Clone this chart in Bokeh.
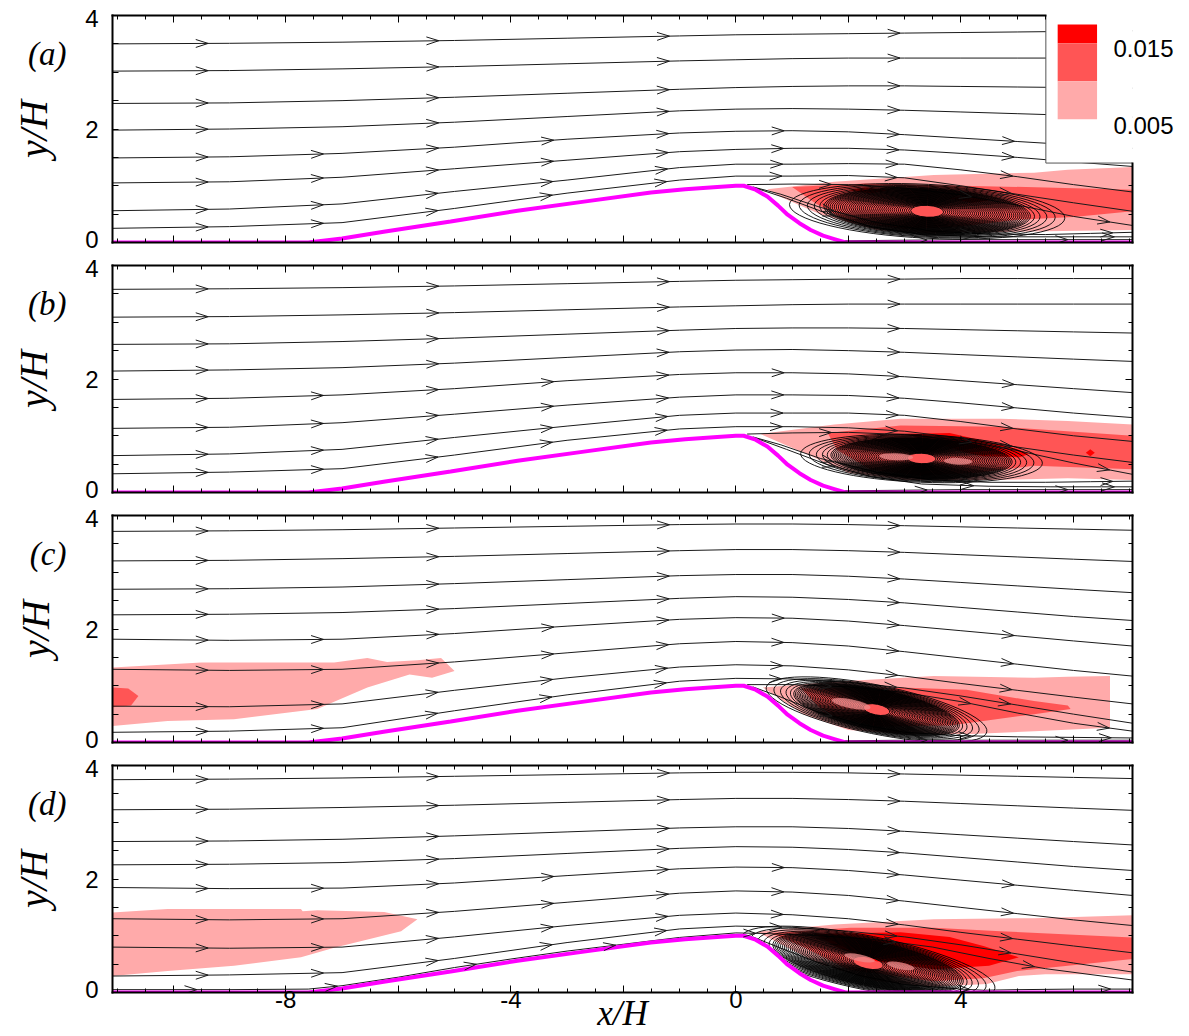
import numpy as np
from bokeh.plotting import figure
from bokeh.layouts import column
from bokeh.models import FixedTicker, LinearAxis, Range1d
from bokeh.embed import file_html
from bokeh.resources import INLINE

# ---------------- data ----------------
x_lo, x_hi = -11.08, 7.05

hill_x = [-11.08, -7.6, -7.0, -6.26, -5.07, -3.88, -2.70, -1.51, -0.9, -0.33, 0.0, 0.14, 0.35,
          0.56, 0.75, 0.92, 1.13, 1.33, 1.55, 1.75, 1.95, 7.05]
hill_y = [0.0, 0.0, 0.07, 0.19, 0.37, 0.56, 0.72, 0.88, 0.94, 0.98, 1.0, 1.0, 0.93,
          0.81, 0.65, 0.49, 0.34, 0.22, 0.12, 0.06, 0.0, 0.0]

stream_x = [-11.08, -9, -7, -5, -3, -1, 0, 1, 2, 3, 4, 5, 6, 7.05]

streams_a = [
    [3.50, 3.51, 3.53, 3.56, 3.60, 3.64, 3.66, 3.67, 3.68, 3.69, 3.70, 3.71, 3.72, 3.73],
    [3.02, 3.03, 3.06, 3.10, 3.15, 3.20, 3.22, 3.24, 3.25, 3.25, 3.25, 3.25, 3.25, 3.25],
    [2.45, 2.46, 2.50, 2.56, 2.63, 2.70, 2.73, 2.75, 2.76, 2.76, 2.75, 2.74, 2.73, 2.72],
    [1.98, 2.00, 2.04, 2.12, 2.22, 2.32, 2.35, 2.36, 2.35, 2.33, 2.30, 2.27, 2.24, 2.21],
    [1.49, 1.51, 1.57, 1.68, 1.82, 1.93, 1.96, 1.97, 1.95, 1.90, 1.84, 1.78, 1.72, 1.66],
    [1.05, 1.07, 1.15, 1.30, 1.45, 1.60, 1.64, 1.66, 1.66, 1.63, 1.57, 1.50, 1.42, 1.34],
    [0.56, 0.59, 0.68, 0.90, 1.10, 1.32, 1.38, 1.38, 1.39, 1.38, 1.28, 1.16, 1.02, 0.89],
    [0.25, 0.28, 0.35, 0.60, 0.87, 1.10, 1.17, 1.17, 1.18, 1.14, 1.00, 0.85, 0.70, 0.55],
]
streams_b = [
    [3.58, 3.59, 3.61, 3.64, 3.68, 3.72, 3.74, 3.75, 3.76, 3.76, 3.77, 3.77, 3.77, 3.77],
    [3.09, 3.10, 3.13, 3.17, 3.22, 3.27, 3.29, 3.31, 3.32, 3.32, 3.32, 3.32, 3.32, 3.32],
    [2.61, 2.62, 2.66, 2.72, 2.79, 2.86, 2.89, 2.90, 2.90, 2.89, 2.87, 2.85, 2.83, 2.81],
    [2.14, 2.16, 2.20, 2.28, 2.38, 2.48, 2.51, 2.52, 2.50, 2.47, 2.43, 2.39, 2.35, 2.31],
    [1.64, 1.66, 1.72, 1.83, 1.97, 2.08, 2.11, 2.11, 2.09, 2.04, 1.97, 1.90, 1.83, 1.76],
    [1.13, 1.15, 1.23, 1.38, 1.54, 1.68, 1.72, 1.72, 1.71, 1.66, 1.58, 1.49, 1.40, 1.32],
    [0.65, 0.68, 0.76, 0.97, 1.17, 1.36, 1.40, 1.40, 1.40, 1.36, 1.25, 1.12, 1.00, 0.90],
    [0.33, 0.36, 0.42, 0.66, 0.92, 1.12, 1.16, 1.16, 1.14, 1.08, 0.96, 0.80, 0.66, 0.53],
]
streams_c = [
    [3.72, 3.73, 3.75, 3.78, 3.81, 3.84, 3.85, 3.85, 3.84, 3.82, 3.80, 3.78, 3.76, 3.74],
    [3.20, 3.21, 3.24, 3.28, 3.33, 3.38, 3.40, 3.40, 3.38, 3.35, 3.31, 3.27, 3.23, 3.19],
    [2.70, 2.71, 2.74, 2.80, 2.87, 2.94, 2.96, 2.96, 2.93, 2.88, 2.82, 2.76, 2.70, 2.64],
    [2.25, 2.26, 2.29, 2.36, 2.45, 2.54, 2.57, 2.56, 2.52, 2.46, 2.38, 2.30, 2.22, 2.15],
    [1.82, 1.80, 1.82, 1.92, 2.05, 2.17, 2.20, 2.19, 2.14, 2.06, 1.97, 1.88, 1.79, 1.70],
    [1.29, 1.27, 1.29, 1.42, 1.58, 1.74, 1.78, 1.76, 1.70, 1.60, 1.49, 1.38, 1.27, 1.17],
    [0.64, 0.63, 0.68, 0.92, 1.14, 1.33, 1.37, 1.35, 1.28, 1.17, 1.04, 0.92, 0.80, 0.68],
    [0.18, 0.20, 0.26, 0.56, 0.84, 1.08, 1.13, 1.12, 1.06, 0.96, 0.82, 0.66, 0.50, 0.34],
]
streams_d = [
    [3.75, 3.76, 3.78, 3.81, 3.84, 3.87, 3.88, 3.88, 3.87, 3.85, 3.83, 3.81, 3.79, 3.77],
    [3.22, 3.23, 3.26, 3.30, 3.35, 3.40, 3.42, 3.42, 3.40, 3.37, 3.33, 3.29, 3.25, 3.21],
    [2.66, 2.67, 2.70, 2.76, 2.83, 2.90, 2.92, 2.92, 2.89, 2.84, 2.78, 2.72, 2.66, 2.60],
    [2.25, 2.26, 2.29, 2.36, 2.45, 2.54, 2.57, 2.56, 2.52, 2.46, 2.38, 2.30, 2.22, 2.15],
    [1.85, 1.83, 1.84, 1.93, 2.06, 2.18, 2.21, 2.20, 2.15, 2.07, 1.98, 1.89, 1.80, 1.71],
    [1.30, 1.28, 1.30, 1.43, 1.59, 1.75, 1.79, 1.77, 1.71, 1.61, 1.50, 1.39, 1.28, 1.18],
    [0.80, 0.78, 0.80, 0.98, 1.18, 1.36, 1.40, 1.37, 1.30, 1.19, 1.06, 0.94, 0.82, 0.70],
    [0.29, 0.31, 0.35, 0.60, 0.88, 1.12, 1.17, 1.15, 1.08, 0.98, 0.84, 0.68, 0.52, 0.36],
]

# near-wall / separated streamlines (x list, y list)
wake_a = [
    ([0.2, 1.0, 2.0, 3.0, 4.0, 5.0, 6.0, 7.05], [1.02, 1.03, 1.02, 0.96, 0.84, 0.66, 0.46, 0.30]),
    ([0.3, 0.8, 1.5, 2.5, 3.5, 4.5, 5.5, 6.3, 7.05], [0.98, 0.85, 0.62, 0.35, 0.20, 0.15, 0.14, 0.16, 0.18]),
    ([0.35, 0.9, 1.6, 2.4, 3.3, 4.5, 5.6, 6.5, 7.05], [0.96, 0.78, 0.52, 0.28, 0.14, 0.10, 0.10, 0.10, 0.10]),
    ([1.9, 3.0, 4.0, 5.0, 6.0, 7.05], [0.03, 0.04, 0.05, 0.05, 0.05, 0.05]),
]
wake_b = [
    ([0.2, 1.0, 2.0, 3.0, 4.0, 5.0, 6.0, 7.05], [1.03, 1.05, 1.06, 1.02, 0.92, 0.74, 0.52, 0.32]),
    ([0.3, 0.8, 1.5, 2.5, 3.5, 4.5, 5.5, 6.3, 7.05], [0.98, 0.84, 0.60, 0.36, 0.22, 0.18, 0.18, 0.19, 0.20]),
    ([0.35, 0.9, 1.6, 2.4, 3.3, 4.5, 5.6, 6.5, 7.05], [0.96, 0.76, 0.50, 0.28, 0.15, 0.11, 0.10, 0.10, 0.10]),
    ([1.9, 3.0, 4.0, 5.0, 6.0, 7.05], [0.03, 0.04, 0.05, 0.05, 0.05, 0.05]),
]
wake_c = [
    ([0.2, 1.0, 2.0, 3.0, 4.0, 5.0, 6.0, 7.05], [1.02, 1.02, 0.98, 0.88, 0.72, 0.52, 0.34, 0.20]),
    ([0.3, 0.8, 1.4, 2.2, 3.0, 4.0, 5.0, 6.0, 7.05], [0.98, 0.80, 0.56, 0.32, 0.18, 0.12, 0.10, 0.09, 0.08]),
    ([1.9, 3.0, 4.0, 5.0, 6.0, 7.05], [0.03, 0.04, 0.04, 0.04, 0.04, 0.04]),
]
wake_d = [
    ([-11.08, -9, -7.6, -7, -6, -5, -4, -3, -2, -1, 0, 0.5, 1.5, 2.5, 3.5, 4.5, 5.5, 7.05],
     [0.05, 0.05, 0.06, 0.12, 0.27, 0.44, 0.59, 0.73, 0.85, 0.97, 1.05, 1.04, 1.0, 0.93, 0.80, 0.60, 0.42, 0.22]),
    ([0.3, 0.8, 1.4, 2.2, 3.0, 4.0, 4.4, 5.0, 6.0, 7.05], [0.98, 0.78, 0.55, 0.30, 0.14, 0.06, 0.04, 0.05, 0.06, 0.06]),
]

# recirculation eddies: centre, tilt, outer width / height of the closed loops
eddy_a = dict(cx=3.4, cy=0.55, ang=-0.05, W=4.9, H=0.95)
eddy_b = dict(cx=3.3, cy=0.6, ang=-0.04, W=4.3, H=0.84)
eddy_c = dict(cx=2.5, cy=0.58, ang=-0.2, W=4.0, H=0.86)
eddy_d = dict(cx=2.35, cy=0.52, ang=-0.2, W=4.6, H=0.95)
# relative sizes of the successive closed loops (outer -> inner)
ring_w = [1.0, 0.93, 0.87, 0.82, 0.78, 0.75, 0.735, 0.72, 0.705, 0.69, 0.675, 0.66, 0.645, 0.63,
          0.615, 0.60, 0.585, 0.57, 0.555, 0.54, 0.525, 0.51, 0.495, 0.48, 0.465, 0.45, 0.435,
          0.42, 0.405, 0.39, 0.375, 0.36, 0.345, 0.33, 0.315, 0.30, 0.285, 0.27, 0.255, 0.24,
          0.225, 0.21, 0.195, 0.18, 0.165, 0.15, 0.135, 0.12]
ring_h = [1.0, 0.96, 0.93, 0.90, 0.875, 0.85, 0.835, 0.82, 0.805, 0.79, 0.775, 0.76, 0.745, 0.73,
          0.715, 0.70, 0.685, 0.67, 0.655, 0.64, 0.625, 0.61, 0.595, 0.58, 0.565, 0.55, 0.535,
          0.52, 0.505, 0.49, 0.475, 0.46, 0.445, 0.43, 0.415, 0.40, 0.385, 0.37, 0.355, 0.34,
          0.325, 0.31, 0.295, 0.28, 0.265, 0.25, 0.235, 0.22]

# small pinkish cores inside the eddies
cores_a = dict(x=[], y=[], w=[], h=[])
cores_b = dict(x=[2.85, 3.95], y=[0.63, 0.55], w=[0.6, 0.5], h=[0.12, 0.12])
cores_c = dict(x=[2.05], y=[0.68], w=[0.7], h=[0.16])
cores_d = dict(x=[2.2, 2.93], y=[0.61, 0.47], w=[0.55, 0.5], h=[0.12, 0.12])

# contour bands of the fluctuation level (0.005 / 0.01 / 0.015)
bands_a = [
    ("light", [0.56, 1.75, 3.52, 5.3, 5.9, 7.05, 7.05, 5.5, 4.5, 3.5, 2.5, 1.5, 0.8],
              [0.94, 1.07, 1.19, 1.23, 1.28, 1.33, 0.22, 0.20, 0.18, 0.16, 0.22, 0.50, 0.80]),
    ("medium", [1.0, 2.3, 4.0, 5.5, 7.05, 7.05, 6.0, 5.0, 4.0, 3.0, 2.0, 1.4],
               [0.98, 1.04, 1.00, 0.97, 0.93, 0.55, 0.45, 0.40, 0.28, 0.24, 0.36, 0.70]),
    ("red", [2.0, 2.3, 2.7, 2.4], [0.92, 0.97, 0.92, 0.87]),
    ("red", [3.8, 4.1, 4.5, 4.2], [0.78, 0.82, 0.74, 0.70]),
]
bands_b = [
    ("light", [0.44, 1.75, 2.93, 4.7, 5.9, 7.05, 7.05, 5.9, 4.5, 3.0, 2.0, 1.2],
              [1.03, 1.20, 1.30, 1.30, 1.26, 1.20, 0.22, 0.25, 0.22, 0.22, 0.35, 0.70]),
    ("medium", [1.63, 2.93, 4.7, 7.05, 7.05, 5.3, 4.3, 3.3, 2.4, 1.8],
               [1.05, 1.18, 1.16, 1.00, 0.41, 0.47, 0.35, 0.30, 0.40, 0.75]),
    ("red", [3.0, 3.8, 4.4, 4.99, 5.21, 5.05, 4.4, 4.1, 3.5],
            [1.03, 1.05, 0.91, 0.77, 0.68, 0.62, 0.64, 0.70, 0.90]),
    ("red", [6.22, 6.3, 6.38, 6.3], [0.70, 0.76, 0.70, 0.64]),
]
bands_c = [
    ("light", [0.48, 1.75, 3.52, 5.3, 5.9, 6.65, 6.65, 5.3, 4.2, 3.0, 2.0, 1.2],
              [0.97, 1.07, 1.17, 1.14, 1.16, 1.17, 0.26, 0.20, 0.15, 0.15, 0.22, 0.50]),
    ("medium", [1.16, 2.93, 4.1, 5.3, 5.9, 5.95, 5.3, 4.4, 3.8, 2.5, 1.6],
               [0.95, 0.97, 0.93, 0.73, 0.65, 0.59, 0.50, 0.38, 0.30, 0.28, 0.50]),
    ("light", [-11.08, -9.5, -7.14, -6.55, -6.2, -5.66, -5.24, -5.0, -5.4, -5.8, -6.55, -7.44, -8.92, -10.1, -11.08],
              [1.32, 1.41, 1.41, 1.49, 1.42, 1.45, 1.49, 1.26, 1.14, 1.20, 0.97, 0.59, 0.41, 0.38, 0.29]),
    ("medium", [-11.08, -10.8, -10.62, -10.75, -11.08], [0.97, 0.95, 0.82, 0.65, 0.62]),
]
bands_d = [
    ("light", [0.38, 1.75, 3.52, 5.3, 7.05, 7.05, 5.5, 5.03, 4.46, 3.5, 2.5, 1.5, 0.8],
              [1.07, 1.20, 1.29, 1.31, 1.36, 0.32, 0.32, 0.29, 0.15, 0.10, 0.20, 0.50, 0.85]),
    ("medium", [0.62, 2.04, 3.52, 4.7, 7.05, 7.05, 5.9, 5.0, 4.4, 3.5, 2.0, 1.2],
               [1.05, 1.14, 1.14, 1.08, 0.97, 0.59, 0.47, 0.38, 0.25, 0.20, 0.40, 0.80]),
    ("red", [1.4, 2.93, 3.8, 4.4, 5.03, 4.5, 3.52, 2.5, 1.8],
            [1.03, 1.06, 0.98, 0.82, 0.62, 0.47, 0.41, 0.55, 0.80]),
    ("light", [-11.08, -10.1, -7.73, -7.7, -7.44, -6.25, -5.66, -5.95, -7.14, -7.73, -8.92, -10.1, -11.08],
              [1.41, 1.47, 1.47, 1.43, 1.45, 1.42, 1.29, 1.08, 0.79, 0.62, 0.47, 0.38, 0.29]),
]

legend_levels = ["0.015", "0.005"]
legend_label_y = [3.42, 2.07]

# ---------------- styling ----------------
COL = {"light": "#FFAAAA", "medium": "#FF5555", "red": "#FF0000"}
MAGENTA = "#FF00FF"
LINE = "#1a1a1a"
x_major = [-10, -8, -6, -4, -2, 0, 2, 4, 6]
x_minor = [float(v) for v in np.arange(-11.0, 7.01, 0.5)]
y_minor = [float(v) for v in np.arange(0.0, 4.01, 0.5)]
y_lab_ticks = [0.05, 2, 3.95]
x_labels = {-8: "-8", -4: "-4", 0: "0", 4: "4"}
LEG_LEFT, LEG_BOTTOM = 5.51, 1.40


def chevrons(xs, ys, start, step):
    xs = np.asarray(xs, float)
    ys = np.asarray(ys, float)
    seg = np.hypot(np.diff(xs), np.diff(ys))
    s = np.concatenate([[0.0], np.cumsum(seg)])
    out = []
    pos = start
    while pos < s[-1] - 0.3:
        px = np.interp(pos, s, xs)
        py = np.interp(pos, s, ys)
        i = min(int(np.searchsorted(s, pos, side="right")) - 1, len(xs) - 2)
        dx, dy = xs[i + 1] - xs[i], ys[i + 1] - ys[i]
        L = np.hypot(dx, dy)
        dx, dy = dx / L, dy / L
        bx, by = px - 0.22 * dx, py - 0.22 * dy
        nx, ny = -dy * 0.07, dx * 0.07
        out.append((bx + nx, by + ny, px, py))
        out.append((bx - nx, by - ny, px, py))
        pos += step
    return out


def base_axis(ax, frame_line=True):
    if frame_line:
        ax.axis_line_color = "black"
        ax.axis_line_width = 2
        ax.axis_line_cap = "square"
    else:
        ax.axis_line_color = None
    ax.major_tick_in = 7
    ax.major_tick_out = 0
    ax.minor_tick_in = 4
    ax.minor_tick_out = 0
    ax.major_tick_line_color = "black"
    ax.minor_tick_line_color = "black"
    ax.major_label_text_font = "Liberation Sans"
    ax.major_label_text_font_size = "24px"
    ax.major_label_text_color = "black"


def hide_labels(ax, ticks):
    ax.major_label_overrides = {t: "" for t in ticks}
    ax.major_label_text_font_size = "0px"
    ax.major_label_standoff = 0


def make_panel(tag, streams, wakes, eddy, cores, bands, show_x, top, bottom, legend=False):
    height = top + 227 + bottom
    p = figure(width=1189, height=height, x_range=Range1d(x_lo, x_hi), y_range=Range1d(0, 4),
               x_axis_type=None, y_axis_type=None, output_backend="svg", toolbar_location=None,
               min_border_left=112, min_border_right=57, min_border_top=top, min_border_bottom=bottom)
    p.outline_line_color = None
    p.background_fill_color = "white"
    p.border_fill_color = "white"

    # bottom axis
    bx = LinearAxis(ticker=FixedTicker(ticks=x_major, minor_ticks=x_minor))
    base_axis(bx)
    if show_x:
        bx.major_label_overrides = {t: x_labels.get(t, "") for t in x_major}
        bx.major_label_standoff = -2
        bx.axis_label = "x/H"
        bx.axis_label_text_font = "Liberation Serif"
        bx.axis_label_text_font_style = "italic"
        bx.axis_label_text_font_size = "35px"
        bx.axis_label_text_color = "black"
        bx.axis_label_standoff = -17
    else:
        hide_labels(bx, x_major)
    p.add_layout(bx, "below")

    # top axis (frame line + ticks; stops at the legend box in panel a)
    if legend:
        tt = FixedTicker(ticks=[t for t in x_major if t < LEG_LEFT], minor_ticks=[t for t in x_minor if t < LEG_LEFT])
        tx = LinearAxis(ticker=tt, bounds=(x_lo, LEG_LEFT))
    else:
        tt = FixedTicker(ticks=x_major, minor_ticks=x_minor)
        tx = LinearAxis(ticker=tt)
    base_axis(tx)
    hide_labels(tx, tt.ticks)
    p.add_layout(tx, "above")

    # left axis with numbers
    ly = LinearAxis(ticker=FixedTicker(ticks=y_lab_ticks, minor_ticks=y_minor))
    base_axis(ly)
    ly.major_tick_line_color = None
    ly.minor_tick_in = 6
    ly.major_label_overrides = {0.05: "0", 2: "2", 3.95: "4"}
    ly.major_label_standoff = 14
    p.add_layout(ly, "left")

    # outer left axis: panel tag + y/H title
    ly2 = LinearAxis(ticker=FixedTicker(ticks=[3.32]), axis_label="y/H")
    ly2.axis_line_color = None
    ly2.major_tick_line_color = None
    ly2.minor_tick_line_color = None
    ly2.major_tick_out = 0
    ly2.major_tick_in = 0
    ly2.major_label_overrides = {3.32: tag}
    ly2.major_label_text_font = "Liberation Serif"
    ly2.major_label_text_font_style = "italic"
    ly2.major_label_text_font_size = "33px"
    ly2.major_label_text_color = "black"
    ly2.major_label_standoff = 16
    ly2.axis_label_text_font = "Liberation Serif"
    ly2.axis_label_text_font_style = "italic"
    ly2.axis_label_text_font_size = "40px"
    ly2.axis_label_text_color = "black"
    ly2.axis_label_standoff = -31
    p.add_layout(ly2, "left")

    # right axis (frame line + ticks)
    if legend:
        rt = FixedTicker(ticks=[0.0], minor_ticks=[t for t in y_minor if t < LEG_BOTTOM])
        ry = LinearAxis(ticker=rt, bounds=(0, LEG_BOTTOM))
    else:
        rt = FixedTicker(ticks=[0, 2, 4], minor_ticks=y_minor)
        ry = LinearAxis(ticker=rt)
    base_axis(ry)
    hide_labels(ry, rt.ticks)
    p.add_layout(ry, "right")

    # contour bands
    for kind in ["light", "medium", "red"]:
        for k, xs, ys in bands:
            if k == kind:
                p.patch(xs, ys, fill_color=COL[k], line_color=None)

    # streamlines
    p.multi_line([stream_x] * len(streams), streams, line_color=LINE, line_width=1)
    p.multi_line([w[0] for w in wakes], [w[1] for w in wakes], line_color=LINE, line_width=1)

    # eddy loops
    n = len(ring_w)
    p.ellipse(x=[eddy["cx"]] * n, y=[eddy["cy"]] * n,
              width=[eddy["W"] * r for r in ring_w], height=[eddy["H"] * r for r in ring_h],
              angle=eddy["ang"], fill_color=None, line_color="black", line_width=0.9)
    if cores["x"]:
        p.ellipse(x=cores["x"], y=cores["y"], width=cores["w"], height=cores["h"], angle=eddy["ang"],
                  fill_color="#EE8C8C", fill_alpha=0.75, line_color=None)

    # solid hill (white) and its magenta outline
    p.varea(x=hill_x, y1=[0] * len(hill_x), y2=hill_y, fill_color="white")
    p.line(hill_x, hill_y, line_color=MAGENTA, line_width=4)

    # arrowheads
    segs = []
    for ys in streams:
        segs += chevrons(stream_x, ys, 1.7, 4.1 if ys[0] >= 1.95 else 2.05)
    for xs, ys in wakes:
        segs += chevrons(xs, ys, 1.5, 2.5)
    x0, y0, x1, y1 = zip(*segs)
    p.segment(x0=list(x0), y0=list(y0), x1=list(x1), y1=list(y1), line_color=LINE, line_width=1)

    if legend:
        p.quad(left=[LEG_LEFT], right=[7.6], top=[4.4], bottom=[LEG_BOTTOM], fill_color="white",
               line_color="#555555", line_width=1)
        p.quad(left=[5.72] * 3, right=[6.42] * 3, top=[3.84, 3.51, 2.84], bottom=[3.51, 2.84, 2.17],
               fill_color=[COL["red"], COL["medium"], COL["light"]], line_color=None)
        lg = LinearAxis(ticker=FixedTicker(ticks=legend_label_y))
        lg.axis_line_color = None
        lg.major_tick_line_color = None
        lg.minor_tick_line_color = None
        lg.major_tick_in = 0
        lg.major_tick_out = 0
        lg.major_label_overrides = dict(zip(legend_label_y, legend_levels))
        lg.major_label_text_font = "Liberation Sans"
        lg.major_label_text_font_size = "24px"
        lg.major_label_text_color = "black"
        lg.major_label_standoff = -19
        p.add_layout(lg, "right")
    return p


pa = make_panel("(a)", streams_a, wake_a, eddy_a, cores_a, bands_a, False, 15, 12, legend=True)
pb = make_panel("(b)", streams_b, wake_b, eddy_b, cores_b, bands_b, False, 11, 12)
pc = make_panel("(c)", streams_c, wake_c, eddy_c, cores_c, bands_c, False, 11, 12)
pd = make_panel("(d)", streams_d, wake_d, eddy_d, cores_d, bands_d, True, 11, 44)

layout = column(pa, pb, pc, pd, spacing=0)
open("out.html", "w").write(file_html(layout, INLINE))
